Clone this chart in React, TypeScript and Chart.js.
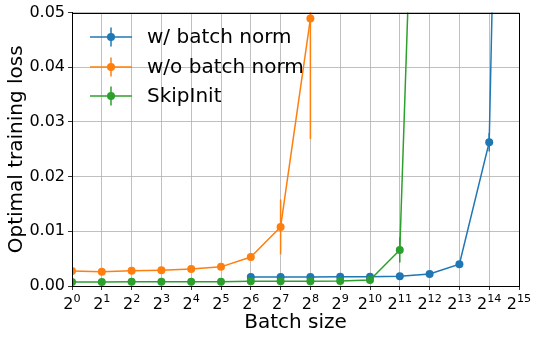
import React, { useEffect, useRef } from "react";
import { Chart, registerables } from "chart.js";

Chart.register(...registerables);

const exponents = [0, 1, 2, 3, 4, 5, 6, 7, 8, 9, 10, 11, 12, 13, 14, 15];

const bnX = [6, 7, 8, 9, 10, 11, 12, 13, 14, 15];
const bnY = [0.00165, 0.00165, 0.00165, 0.0017, 0.0017, 0.0018, 0.0022, 0.004, 0.0263, 0.28];
const bnErr = [0.0001, 0.0001, 0.0001, 0.0001, 0.0001, 0.0001, 0.0002, 0.0003, 0.0017, 0.05];

const noBnX = [0, 1, 2, 3, 4, 5, 6, 7, 8, 9];
const noBnY = [0.00276, 0.0026, 0.0028, 0.0029, 0.0031, 0.0035, 0.0053, 0.0108, 0.0489, 1.0];
const noBnErr = [0.0001, 0.0001, 0.0001, 0.0001, 0.0001, 0.0002, 0.0007, 0.005, 0.022, 0.2];

const skipX = [0, 1, 2, 3, 4, 5, 6, 7, 8, 9, 10, 11, 12];
const skipY = [0.00074, 0.00074, 0.00078, 0.00076, 0.00076, 0.00076, 0.00086, 0.00086, 0.00086, 0.0009, 0.0011, 0.0066, 0.17];
const skipErr = [0.00005, 0.00005, 0.00005, 0.00005, 0.00005, 0.00005, 0.00005, 0.00005, 0.00005, 0.00005, 0.0001, 0.0023, 0.03];

const seriesLabels = ["w/ batch norm", "w/o batch norm", "SkipInit"];
const seriesColors = ["#1f77b4", "#ff7f0e", "#2ca02c"];

const yTicks = [0, 0.01, 0.02, 0.03, 0.04, 0.05];

const FONT = "'DejaVu Sans', sans-serif";

const errs = [bnErr, noBnErr, skipErr];

const errorBarPlugin = {
  id: "errorBars",
  afterDatasetsDraw(chart: any) {
    const { ctx, chartArea, scales } = chart;
    ctx.save();
    ctx.beginPath();
    ctx.rect(chartArea.left, chartArea.top, chartArea.right - chartArea.left, chartArea.bottom - chartArea.top);
    ctx.clip();
    chart.data.datasets.forEach((ds: any, i: number) => {
      ctx.strokeStyle = seriesColors[i];
      ctx.lineWidth = 1.5;
      ds.data.forEach((p: any, j: number) => {
        const e = errs[i][j];
        const x = scales.x.getPixelForValue(p.x);
        const y1 = scales.y.getPixelForValue(p.y - e);
        const y2 = scales.y.getPixelForValue(p.y + e);
        ctx.beginPath();
        ctx.moveTo(x, y1);
        ctx.lineTo(x, y2);
        ctx.stroke();
      });
    });
    ctx.restore();
  },
  afterDraw(chart: any) {
    const { ctx, chartArea, scales } = chart;
    ctx.save();
    ctx.strokeStyle = "#000";
    ctx.lineWidth = 1;
    ctx.strokeRect(
      Math.round(chartArea.left) + 0.5,
      Math.round(chartArea.top) + 0.5,
      Math.round(chartArea.right - chartArea.left),
      Math.round(chartArea.bottom - chartArea.top)
    );
    // x tick labels: 2^n with raised exponent
    ctx.fillStyle = "#000";
    ctx.textBaseline = "alphabetic";
    ctx.textAlign = "left";
    exponents.forEach((n) => {
      const px = scales.x.getPixelForValue(n);
      ctx.font = `16px ${FONT}`;
      const wb = ctx.measureText("2").width;
      ctx.font = `11.2px ${FONT}`;
      const ws = ctx.measureText(String(n)).width;
      const start = px - (wb + ws) / 2;
      ctx.font = `16px ${FONT}`;
      ctx.fillText("2", start, chartArea.bottom + 22.5);
      ctx.font = `11.2px ${FONT}`;
      ctx.fillText(String(n), start + wb, chartArea.bottom + 16);
    });
    // legend
    const ys = [37, 67, 96];
    seriesLabels.forEach((lab, i) => {
      const y = ys[i];
      ctx.strokeStyle = seriesColors[i];
      ctx.fillStyle = seriesColors[i];
      ctx.lineWidth = 1.5;
      ctx.beginPath();
      ctx.moveTo(90, y);
      ctx.lineTo(132, y);
      ctx.stroke();
      ctx.beginPath();
      ctx.moveTo(111, y - 9.5);
      ctx.lineTo(111, y + 9.5);
      ctx.stroke();
      ctx.beginPath();
      ctx.arc(111, y, 4, 0, Math.PI * 2);
      ctx.fill();
      ctx.fillStyle = "#000";
      ctx.font = `20px ${FONT}`;
      ctx.textBaseline = "middle";
      ctx.textAlign = "left";
      ctx.fillText(lab, 147, y + 1);
    });
    ctx.restore();
  },
};

export default function App() {
  const ref = useRef<HTMLCanvasElement>(null);
  useEffect(() => {
    document.body.style.margin = "0";
    const toPts = (xs: number[], ys: number[]) => xs.map((x, i) => ({ x, y: ys[i] }));
    const order = [2, 1, 0];
    const data = [toPts(bnX, bnY), toPts(noBnX, noBnY), toPts(skipX, skipY)];
    const chart = new Chart(ref.current!, {
      type: "line",
      data: {
        datasets: data.map((d, i) => ({
          label: seriesLabels[i],
          data: d,
          borderColor: seriesColors[i],
          backgroundColor: seriesColors[i],
          borderWidth: 1.5,
          pointRadius: 4,
          pointBorderWidth: 0,
          pointBackgroundColor: seriesColors[i],
          tension: 0,
          fill: false,
          order: order[i],
          clip: 0,
        })),
      },
      options: {
        responsive: false,
        animation: false,
        layout: { padding: { top: 12, right: 20, left: 0, bottom: 0 } },
        plugins: { legend: { display: false }, tooltip: { enabled: false } },
        scales: {
          x: {
            type: "linear",
            min: 0,
            max: 15,
            afterBuildTicks: (scale: any) => {
              scale.ticks = exponents.map((v) => ({ value: v }));
            },
            afterFit: (scale: any) => {
              scale.height = 54;
            },
            ticks: {
              autoSkip: false,
              maxRotation: 0,
              color: "rgba(0,0,0,0)",
              font: { family: FONT, size: 16 },
              padding: 2,
              callback: (v: any) => "2" + String(v),
            },
            grid: { color: "#b0b0b0", lineWidth: 0.8, tickColor: "#000", tickLength: 4 },
            border: { color: "#000", width: 1 },
            title: {
              display: true,
              text: "Batch size",
              color: "#000",
              font: { family: FONT, size: 20 },
              padding: { top: 0, bottom: 5 },
            },
          },
          y: {
            type: "linear",
            min: 0,
            max: 0.05,
            afterBuildTicks: (scale: any) => {
              scale.ticks = yTicks.map((v) => ({ value: v }));
            },
            afterFit: (scale: any) => {
              scale.width = 72;
            },
            ticks: {
              color: "#000",
              font: { family: FONT, size: 16 },
              padding: 3,
              callback: (v: any) => Number(v).toFixed(2),
            },
            grid: { color: "#b0b0b0", lineWidth: 0.8, tickColor: "#000", tickLength: 4 },
            border: { color: "#000", width: 1 },
            title: {
              display: true,
              text: "Optimal training loss",
              color: "#000",
              font: { family: FONT, size: 20 },
              padding: { top: 5, bottom: 0 },
            },
          },
        },
      },
      plugins: [errorBarPlugin],
    } as any);
    return () => chart.destroy();
  }, []);
  return (
    <div style={{ width: 539, height: 340 }}>
      <canvas ref={ref} width={539} height={340} />
    </div>
  );
}
